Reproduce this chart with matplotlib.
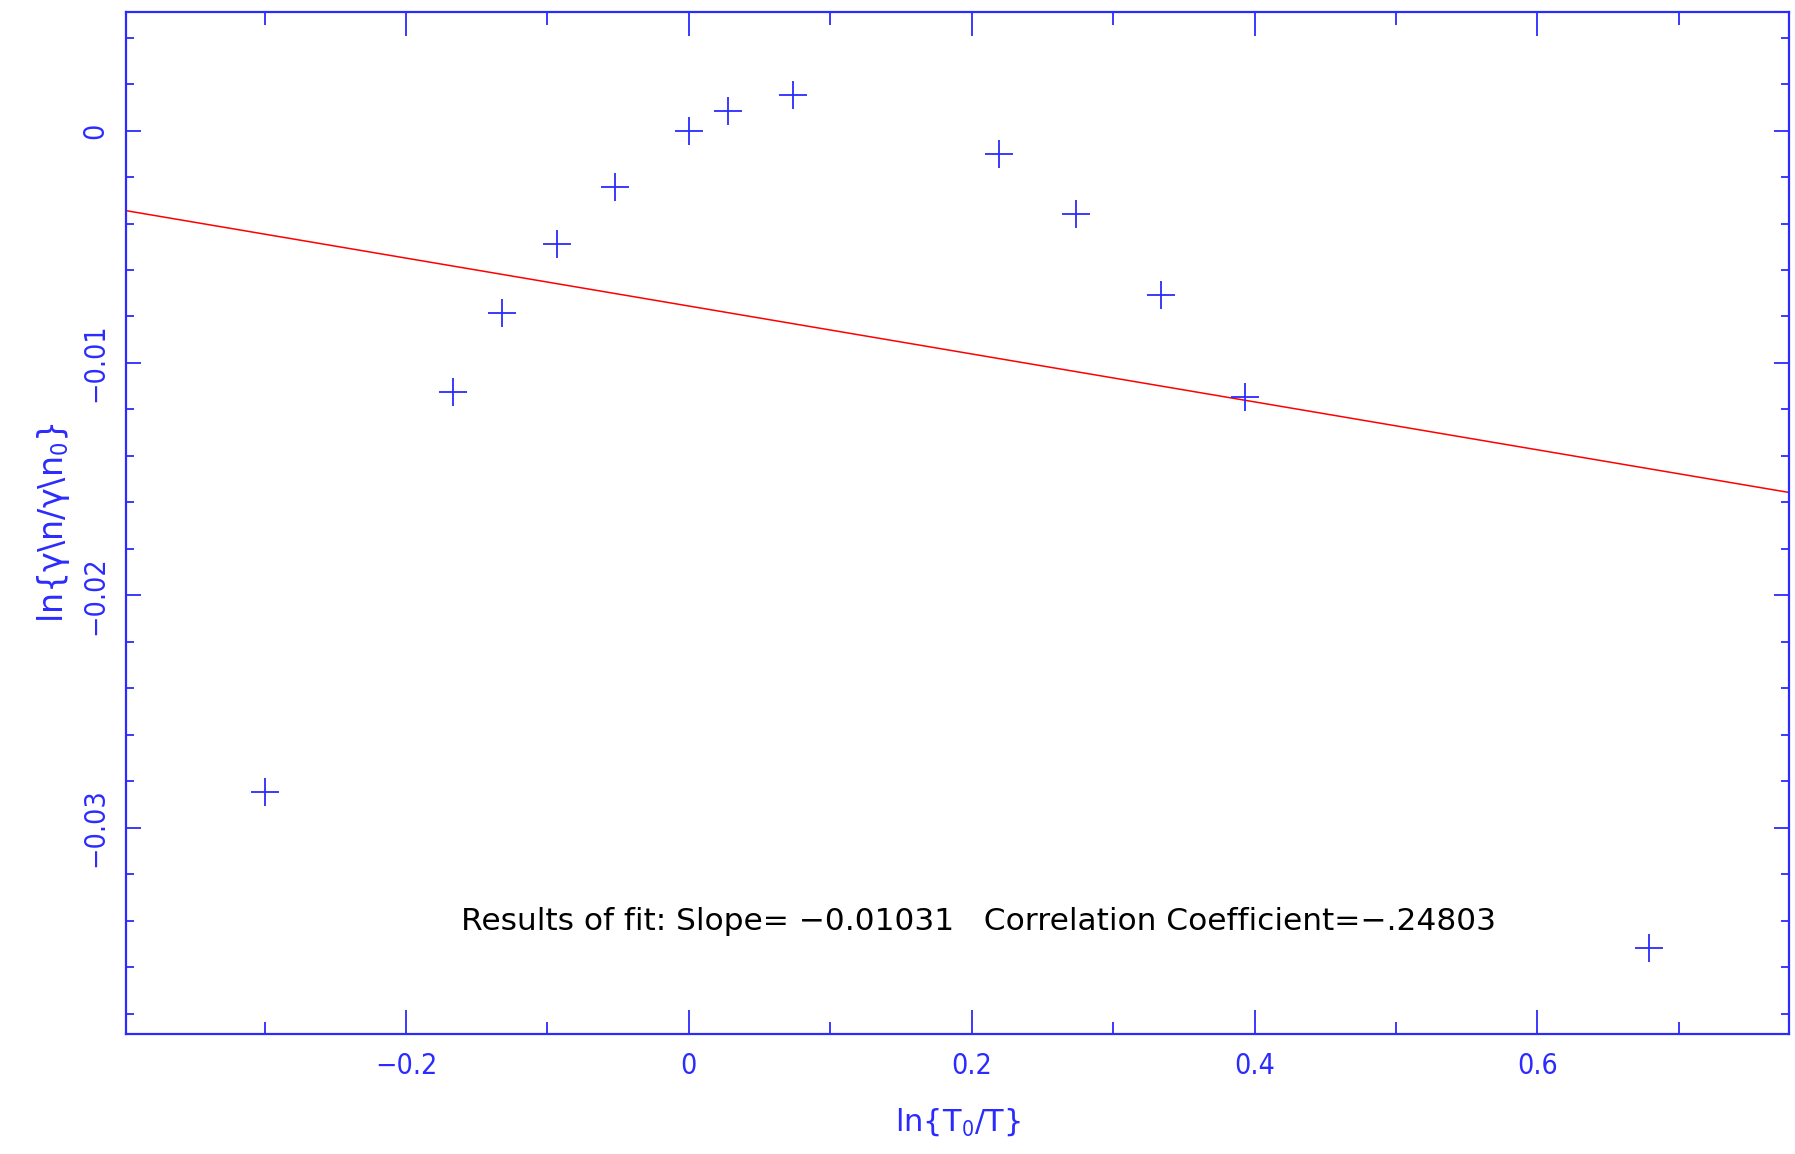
import numpy as np
import matplotlib
matplotlib.use("Agg")
import matplotlib.pyplot as plt
from matplotlib.ticker import MultipleLocator

# ln(T0/T) against ln(gamma_n/gamma_n0), with the straight-line fit
lnT = [-0.300, -0.167, -0.132, -0.093, -0.052, 0.000, 0.028, 0.074,
       0.219, 0.274, 0.334, 0.393, 0.679]
lnG = [-0.02847, -0.01123, -0.00783, -0.00488, -0.00241, 0.00000, 0.00084, 0.00153,
       -0.00103, -0.00360, -0.00709, -0.01148, -0.03517]

slope = -0.01031
intercept = -0.00755
corr = "-.24803"

plt.rcParams['font.family'] = ['DejaVu Sans']
plt.rcParams['font.stretch'] = 'condensed'
blue = '#2b2bff'

fig = plt.figure(figsize=(17.95, 11.54), dpi=100)
ax = fig.add_axes([0.0702, 0.104, 0.9265, 0.886])

xlim = (-0.398, 0.778)
ax.set_xlim(xlim)
ax.set_ylim(-0.03887, 0.00512)

xf = np.array(xlim)
ax.plot(xf, intercept + slope * xf, color='red', lw=1.1)
ax.plot(lnT, lnG, ls='none', marker='+', ms=20, mew=1.3, color=blue)

for s in ax.spines.values():
    s.set_color(blue)
    s.set_linewidth(1.6)

ax.xaxis.set_major_locator(MultipleLocator(0.2))
ax.xaxis.set_minor_locator(MultipleLocator(0.1))
ax.yaxis.set_major_locator(MultipleLocator(0.01))
ax.yaxis.set_minor_locator(MultipleLocator(0.002))
ax.xaxis.set_major_formatter(plt.FuncFormatter(lambda v, p: '0' if abs(v) < 1e-9 else ('%.1f' % v).replace('-', '\u2212')))
ax.yaxis.set_major_formatter(plt.FuncFormatter(lambda v, p: '0' if abs(v) < 1e-9 else ('%.2f' % v).replace('-', '\u2212')))

ax.tick_params(axis='both', which='both', direction='in', colors=blue,
               top=True, right=True, labelsize=20.5, width=1.3)
ax.tick_params(axis='x', which='major', length=17, pad=13)
ax.tick_params(axis='x', which='minor', length=9)
ax.tick_params(axis='y', which='major', length=11, pad=12)
ax.tick_params(axis='y', which='minor', length=6)
for lab in ax.get_yticklabels():
    lab.set_rotation(90)
    lab.set_va('center')

ax.set_xlabel('ln{T$_0$/T}', color=blue, fontsize=22, fontstretch='normal', labelpad=19)
ax.set_ylabel('ln{\u03b3\\n/\u03b3\\n$_0$}', color=blue, fontsize=24, fontstretch='normal', labelpad=7)

ax.text(0.205, -0.03404, 'Results of fit: Slope= \u2212%.5f   Correlation Coefficient=\u2212%s'
        % (abs(slope), corr.lstrip('-')),
        ha='center', va='center', fontsize=22.5, fontstretch='normal', color='black')

fig.savefig('out.png', dpi=100)
